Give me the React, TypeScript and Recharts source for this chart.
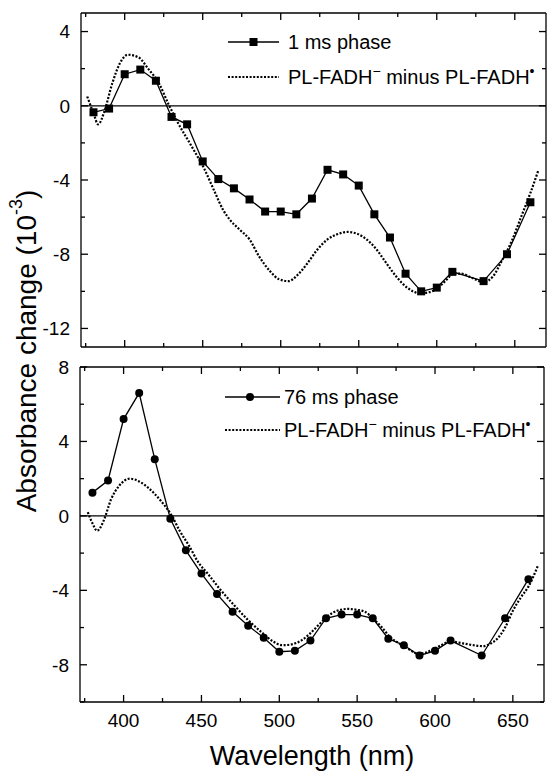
import React from "react";
import { LineChart, Line, XAxis, YAxis, ReferenceLine, Legend } from "recharts";

const FONT = '"Liberation Sans", Arial, Helvetica, sans-serif';

// 1 ms phase (top panel, squares)
const fastWl = [380, 390, 400, 410, 420, 430, 440, 450, 460, 470, 480, 490, 500, 510, 520, 530, 540, 550, 560, 570, 580, 590, 600, 610, 630, 645, 660];
const fastAbs = [-0.35, -0.15, 1.7, 1.95, 1.35, -0.6, -1.0, -3.0, -3.95, -4.45, -5.05, -5.7, -5.7, -5.85, -5.0, -3.45, -3.7, -4.3, -5.85, -7.1, -9.05, -10.0, -9.8, -8.95, -9.45, -8.0, -5.2];

// PL-FADH- minus PL-FADH* difference spectrum, scaled for the top panel
const refTopWl = [376, 380, 383, 387, 392, 397, 402, 409, 415, 422, 428, 434, 443, 451, 458, 463, 468, 474, 480, 486, 493, 499, 505, 511, 517, 523, 530, 537, 543, 549, 555, 561, 567, 574, 581, 589, 595, 601, 606, 611, 616, 622, 630, 636, 642, 648, 654, 660, 665];
const refTopAbs = [0.5, -0.4, -1.0, -0.3, 1.2, 2.3, 2.75, 2.6, 2.0, 1.2, 0.1, -0.9, -2.2, -3.4, -4.7, -5.6, -6.2, -6.7, -7.2, -8.1, -8.9, -9.35, -9.45, -9.1, -8.5, -7.8, -7.2, -6.9, -6.8, -6.9, -7.2, -7.7, -8.4, -9.2, -9.8, -10.1, -10.05, -9.8, -9.4, -9.05, -9.05, -9.25, -9.5, -9.2, -8.3, -7.3, -6.0, -4.7, -3.5];

// 76 ms phase (bottom panel, circles)
const slowWl = [380, 390, 400, 410, 420, 430, 440, 450, 460, 470, 480, 490, 500, 510, 520, 530, 540, 550, 560, 570, 580, 590, 600, 610, 630, 645, 660];
const slowAbs = [1.25, 1.9, 5.2, 6.6, 3.05, -0.15, -1.85, -3.1, -4.2, -5.15, -5.9, -6.55, -7.3, -7.25, -6.7, -5.5, -5.3, -5.3, -5.5, -6.6, -6.95, -7.5, -7.25, -6.7, -7.5, -5.5, -3.4];

// difference spectrum, scaled for the bottom panel
const refBotWl = [377, 380, 383, 387, 392, 397, 404, 410, 416, 424, 431, 436, 442, 448, 454, 462, 471, 480, 490, 496, 502, 508, 514, 520, 526, 531, 537, 544, 550, 555, 560, 566, 571, 577, 582, 589, 594, 598, 604, 610, 618, 625, 631, 636, 640, 645, 650, 655, 660, 666];
const refBotAbs = [0.2, -0.4, -0.8, -0.3, 0.9, 1.6, 2.0, 1.85, 1.5, 0.8, 0, -0.8, -1.6, -2.5, -3.1, -3.95, -4.8, -5.6, -6.35, -6.75, -6.95, -6.9, -6.7, -6.3, -5.8, -5.4, -5.1, -5.0, -5.05, -5.15, -5.5, -6.0, -6.5, -6.85, -7.1, -7.4, -7.35, -7.2, -6.95, -6.75, -6.85, -6.95, -7.0, -6.85, -6.6, -6.0, -5.1, -4.4, -3.8, -2.7];

const xTicks = [375, 400, 425, 450, 475, 500, 525, 550, 575, 600, 625, 650];
const yTicksTop = [-12, -10, -8, -6, -4, -2, 0, 2, 4];
const yTicksBottom = [-10, -8, -6, -4, -2, 0, 2, 4, 6, 8];

const zip = (xs: number[], ys: number[]) => xs.map((wl, i) => ({ wl, v: ys[i] }));

const XTick = ({ x, y, payload, side, label }: any) => {
  const v = payload.value;
  const major = v % 50 === 0;
  const len = major ? 7 : 4;
  const dir = side === "bottom" ? -1 : 1;
  return (
    <g>
      <line x1={x} x2={x} y1={y} y2={y + dir * len} stroke="#000" strokeWidth={1.3} />
      {label && major && (
        <text x={x} y={y + 25} textAnchor="middle" fontSize={19} fontFamily={FONT} fill="#000">
          {v}
        </text>
      )}
    </g>
  );
};

const YTick = ({ x, y, payload, side }: any) => {
  const v = payload.value;
  const major = v % 4 === 0;
  const len = major ? 7 : 4;
  const dir = side === "left" ? 1 : -1;
  return (
    <g>
      <line x1={x} x2={x + dir * len} y1={y} y2={y} stroke="#000" strokeWidth={1.3} />
      {side === "left" && major && (
        <text x={x - 11} y={y} dy="0.36em" textAnchor="end" fontSize={19} fontFamily={FONT} fill="#000">
          {v}
        </text>
      )}
    </g>
  );
};

const SquareDot = (p: any) => (
  <rect key={p.index} x={p.cx - 4} y={p.cy - 4} width={8} height={8} fill="#000" />
);

const LegendBox = ({ marker, label, rowH, lineW, markX, gap }: any) => (
  <div style={{ fontFamily: FONT, fontSize: 20, color: "#000", whiteSpace: "nowrap" }}>
    <div style={{ display: "flex", alignItems: "center", height: rowH }}>
      <svg width={lineW} height={12}>
        <line x1={0} x2={lineW} y1={6} y2={6} stroke="#000" strokeWidth={1.3} />
        {marker === "square" ? (
          <rect x={markX - 4} y={2} width={8} height={8} fill="#000" />
        ) : (
          <circle cx={markX} cy={6} r={4} fill="#000" />
        )}
      </svg>
      <span style={{ marginLeft: gap }}>{label}</span>
    </div>
    <div style={{ display: "flex", alignItems: "center", height: rowH }}>
      <svg width={lineW} height={12}>
        <line x1={0} x2={lineW} y1={6} y2={6} stroke="#000" strokeWidth={2.2} strokeDasharray="2 1.6" />
      </svg>
      <span style={{ marginLeft: gap }}>
        PL-FADH<sup style={{ fontSize: "0.7em", lineHeight: 0 }}>−</sup> minus PL-FADH
        <sup style={{ fontSize: "0.7em", lineHeight: 0 }}>•</sup>
      </span>
    </div>
  </div>
);

function Panel(props: any) {
  const { top, height, axisTop, axisBottom, axisLeft, axisRight, yDomain, yTicks, points, ref, marker, label, legend, showX } = props;
  return (
    <div style={{ position: "absolute", left: 0, top }}>
      <LineChart width={549} height={height} margin={{ top: 0, right: 0, bottom: 0, left: 0 }}>
        <XAxis xAxisId="b" type="number" dataKey="wl" domain={[372, 670]} allowDataOverflow ticks={xTicks} interval={0}
          height={axisBottom} tickSize={0} tickMargin={0} stroke="#000" strokeWidth={1.3}
          tick={(p: any) => <XTick {...p} side="bottom" label={showX} />}
          label={showX ? { value: "Wavelength (nm)", position: "insideBottom", offset: 7, fontSize: 27, fontFamily: FONT, fill: "#000" } : undefined} />
        <XAxis xAxisId="t" orientation="top" type="number" dataKey="wl" domain={[372, 670]} allowDataOverflow ticks={xTicks} interval={0}
          height={axisTop} tickSize={0} tickMargin={0} stroke="#000" strokeWidth={1.3}
          tick={(p: any) => <XTick {...p} side="top" />} />
        <YAxis yAxisId="l" type="number" domain={yDomain} allowDataOverflow ticks={yTicks} interval={0}
          width={axisLeft} tickSize={0} tickMargin={0} stroke="#000" strokeWidth={1.3}
          tick={(p: any) => <YTick {...p} side="left" />} />
        <YAxis yAxisId="r" orientation="right" type="number" domain={yDomain} allowDataOverflow ticks={yTicks} interval={0}
          width={axisRight} tickSize={0} tickMargin={0} stroke="#000" strokeWidth={1.3}
          tick={(p: any) => <YTick {...p} side="right" />} />
        <ReferenceLine xAxisId="b" yAxisId="l" y={0} stroke="#000" strokeWidth={1.2} />
        <Line xAxisId="b" yAxisId="l" data={ref} dataKey="v" type="monotone" stroke="#000" strokeWidth={2.2}
          strokeDasharray="2 1.6" dot={false} isAnimationActive={false} />
        <Line xAxisId="b" yAxisId="l" data={points} dataKey="v" type="linear" stroke="#000" strokeWidth={1.3}
          dot={marker === "square" ? SquareDot : { r: 4, fill: "#000", stroke: "#000", strokeWidth: 0 }}
          isAnimationActive={false} />
        <Legend layout="vertical" align="center" verticalAlign="middle"
          wrapperStyle={{ left: legend.left, top: legend.top, width: 320 }}
          content={() => <LegendBox marker={marker} label={label} rowH={legend.rowH} lineW={legend.lineW} markX={legend.markX} gap={legend.gap} />} />
      </LineChart>
    </div>
  );
}

export default function App() {
  return (
    <div style={{ position: "absolute", left: 0, top: 0, width: 549, height: 772, background: "#fff" }}>
      <Panel top={0} height={356} axisTop={13} axisBottom={9} axisLeft={81} axisRight={3}
        yDomain={[-13, 5]} yTicks={yTicksTop} points={zip(fastWl, fastAbs)} ref={zip(refTopWl, refTopAbs)}
        marker="square" label="1 ms phase" showX={false}
        legend={{ left: 228, top: 24.5, rowH: 35, lineW: 51, markX: 25.5, gap: 9 }} />
      <Panel top={350} height={422} axisTop={17} axisBottom={70} axisLeft={80} axisRight={5}
        yDomain={[-10, 8]} yTicks={yTicksBottom} points={zip(slowWl, slowAbs)} ref={zip(refBotWl, refBotAbs)}
        marker="circle" label="76 ms phase" showX={true}
        legend={{ left: 225, top: 30.5, rowH: 33, lineW: 55, markX: 25, gap: 4 }} />
      <svg width={60} height={772} style={{ position: "absolute", left: 0, top: 0, pointerEvents: "none" }}>
        <text transform="translate(26,351) rotate(-90)" textAnchor="middle" dominantBaseline="central"
          fontSize={28} fontFamily={FONT} fill="#000">
          Absorbance change (10<tspan dy={-10} fontSize={18}>-3</tspan><tspan dy={10}>)</tspan>
        </text>
      </svg>
    </div>
  );
}
